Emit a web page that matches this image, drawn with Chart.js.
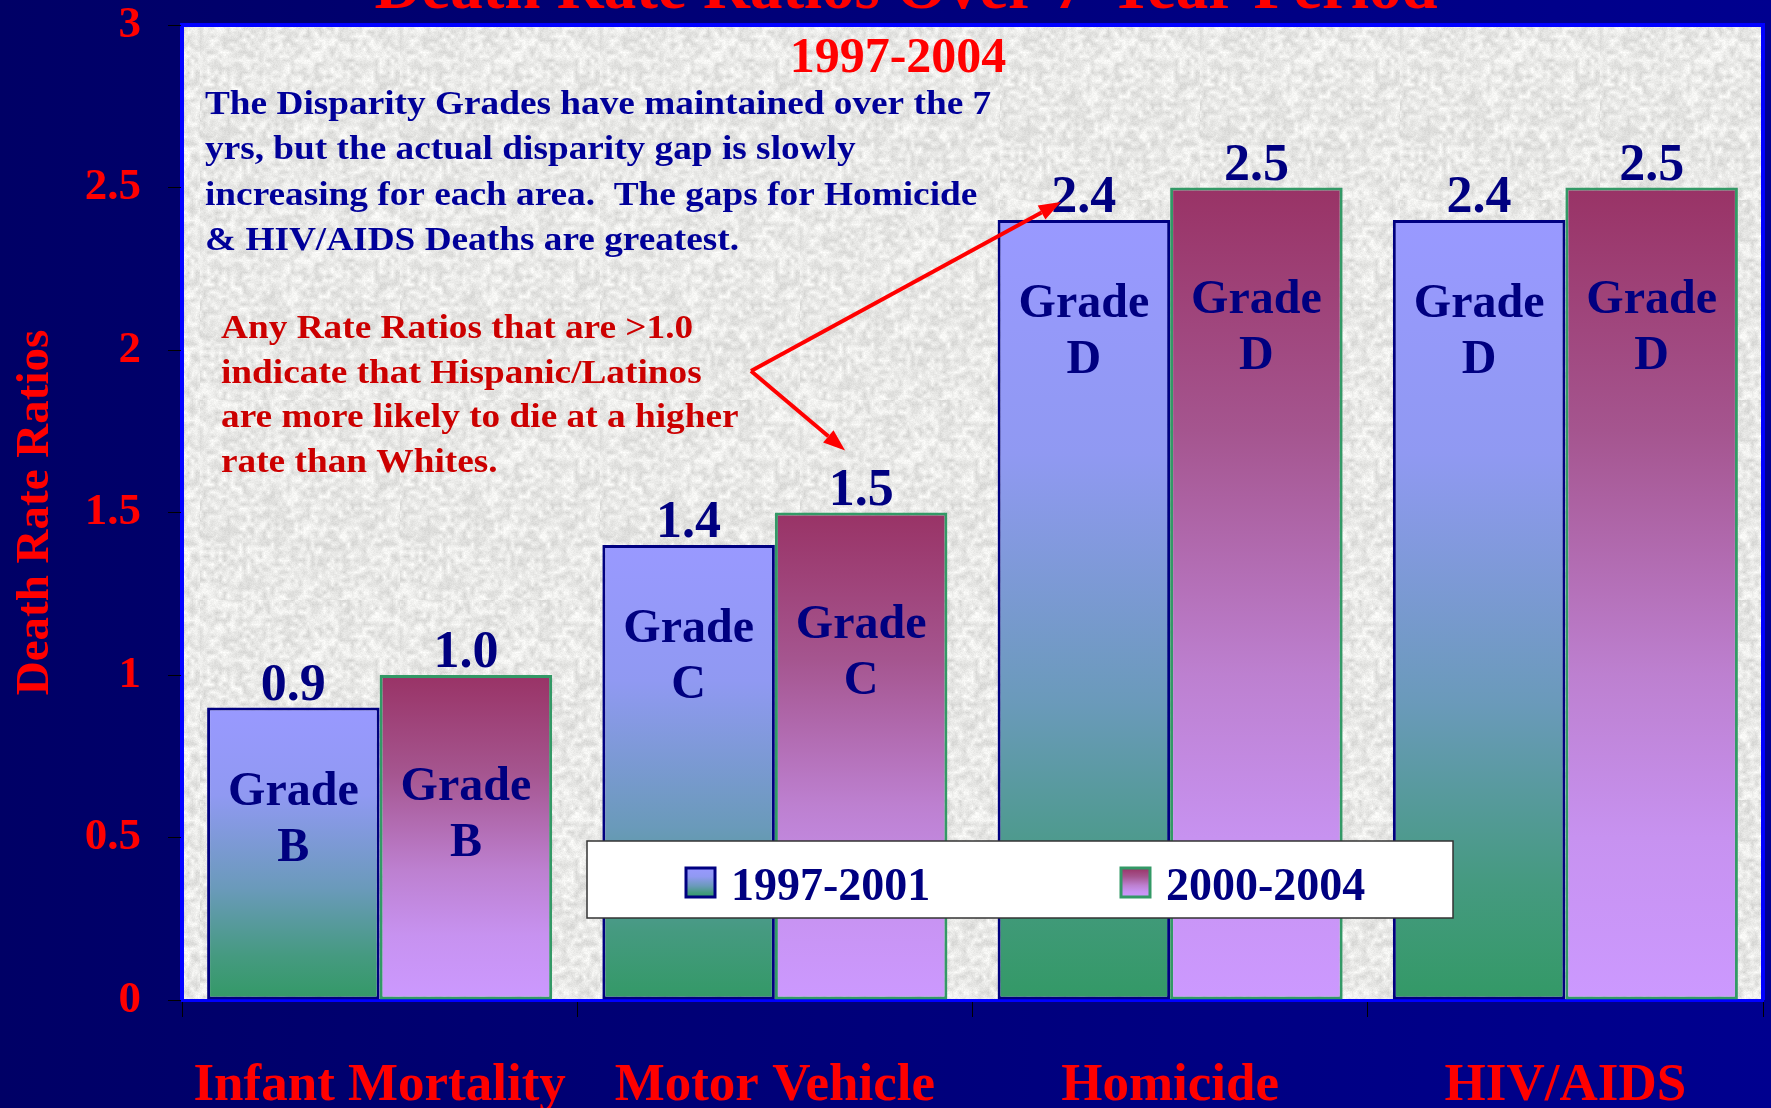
<!DOCTYPE html>
<html>
<head>
<meta charset="utf-8">
<script src="https://cdn.jsdelivr.net/npm/chart.js@4.4.0/dist/chart.umd.min.js"></script>
<style>
  html, body { margin: 0; padding: 0; background: #000080; }
  #wrap { width: 1771px; height: 1108px; }
</style>
</head>
<body>
<div id="wrap"><canvas id="rateChart" width="1771" height="1108"></canvas></div>
<script>
// data
const categories = ['Infant Mortality', 'Motor Vehicle', 'Homicide', 'HIV/AIDS'];
const seriesLabels = ['1997-2001', '2000-2004'];
const ratios9701 = [0.9, 1.4, 2.4, 2.4];
const ratios0004 = [1.0, 1.5, 2.5, 2.5];
const grades9701 = ['B', 'C', 'D', 'D'];
const grades0004 = ['B', 'C', 'D', 'D'];
const yTickValues = [0, 0.5, 1, 1.5, 2, 2.5, 3];

const mainTitle = 'Death Rate Ratios Over 7-Year Period';
const subTitle = '1997-2004';
const noteBlue = [
  'The Disparity Grades have maintained over the 7',
  'yrs, but the actual disparity gap is slowly',
  'increasing for each area.  The gaps for Homicide',
  '& HIV/AIDS Deaths are greatest.'
];
const noteRed = [
  'Any Rate Ratios that are >1.0',
  'indicate that Hispanic/Latinos',
  'are more likely to die at a higher',
  'rate than Whites.'
];

const SERIF = '"Liberation Serif", "Times New Roman", serif';
const NAVY = '#000080';

// gradient stops for each series (top -> bottom of the bar)
const stops9701 = [[0, '#9999ff'], [0.3, '#9099f2'], [0.62, '#6a9aba'], [0.85, '#459a80'], [1, '#339966']];
const stops0004 = [[0, '#993366'], [0.3, '#a5558f'], [0.6, '#bd80d0'], [0.8, '#c792f0'], [1, '#cc99ff']];

function barGradient(stops) {
  return (c) => {
    const chart = c.chart;
    const y = chart.scales.y;
    if (!y || c.type !== 'data') return stops[0][1];
    const top = y.getPixelForValue(c.raw);
    const bottom = y.getPixelForValue(0);
    if (!isFinite(top) || !isFinite(bottom) || top === bottom) return stops[0][1];
    const g = chart.ctx.createLinearGradient(0, top, 0, bottom);
    stops.forEach(s => g.addColorStop(s[0], s[1]));
    return g;
  };
}

// speckled grey paper texture for the plot area (deterministic)
function hash(x, y) {
  const s = Math.sin(x * 127.1 + y * 311.7) * 43758.5453;
  return s - Math.floor(s);
}
function makeTexture() {
  const size = 200;
  const c = document.createElement('canvas');
  c.width = c.height = size;
  const g = c.getContext('2d');
  const img = g.createImageData(size, size);
  const cell = 4;
  for (let y = 0; y < size; y++) {
    for (let x = 0; x < size; x++) {
      const gx = Math.floor(x / cell), gy = Math.floor(y / cell);
      const fx = (x % cell) / cell, fy = (y % cell) / cell;
      const a = hash(gx, gy), b = hash(gx + 1, gy), d = hash(gx, gy + 1), e = hash(gx + 1, gy + 1);
      const smooth = (a * (1 - fx) + b * fx) * (1 - fy) + (d * (1 - fx) + e * fx) * fy;
      const fine = hash(x + 1000, y + 1000);
      const v = Math.round(233 + (smooth - 0.5) * 38 + (fine - 0.5) * 12);
      const i = (y * size + x) * 4;
      img.data[i] = v; img.data[i + 1] = v; img.data[i + 2] = v - 2; img.data[i + 3] = 255;
    }
  }
  g.putImageData(img, 0, 0);
  return c;
}
const texture = makeTexture();

const backdrop = {
  id: 'backdrop',
  beforeDraw(chart) {
    const { ctx, width, height, chartArea: a } = chart;
    ctx.save();
    const bg = ctx.createLinearGradient(0, 0, width, 0);
    bg.addColorStop(0, '#000066');
    bg.addColorStop(1, '#00008f');
    ctx.fillStyle = bg;
    ctx.fillRect(0, 0, width, height);
    ctx.fillStyle = ctx.createPattern(texture, 'repeat');
    ctx.fillRect(a.left, a.top, a.right - a.left, a.bottom - a.top);
    ctx.strokeStyle = '#0000ff';
    ctx.lineWidth = 4;
    ctx.beginPath();
    ctx.moveTo(a.left, a.bottom);
    ctx.lineTo(a.left, a.top);
    ctx.lineTo(a.right, a.top);
    ctx.lineTo(a.right, a.bottom);
    ctx.stroke();
    ctx.restore();
  }
};

function drawArrow(ctx, x1, y1, x2, y2) {
  const ang = Math.atan2(y2 - y1, x2 - x1);
  const head = 22, half = 8;
  const bx = x2 - head * Math.cos(ang), by = y2 - head * Math.sin(ang);
  ctx.beginPath();
  ctx.moveTo(x1, y1);
  ctx.lineTo(bx, by);
  ctx.stroke();
  ctx.beginPath();
  ctx.moveTo(x2, y2);
  ctx.lineTo(bx + half * Math.sin(ang), by - half * Math.cos(ang));
  ctx.lineTo(bx - half * Math.sin(ang), by + half * Math.cos(ang));
  ctx.closePath();
  ctx.fill();
}

// slide text is set a little wider than Liberation Serif
function wideText(ctx, text, x, y, stretch) {
  ctx.save();
  ctx.translate(x, y);
  ctx.scale(stretch, 1);
  ctx.fillText(text, 0, 0);
  ctx.restore();
}

const annotations = {
  id: 'annotations',
  afterDatasetsDraw(chart) {
    const { ctx } = chart;
    const gradeSets = [grades9701, grades0004];
    const gradeOffset = [97, 125];
    ctx.save();

    // value labels and grade labels
    chart.data.datasets.forEach((ds, di) => {
      chart.getDatasetMeta(di).data.forEach((bar, i) => {
        ctx.fillStyle = NAVY;
        ctx.textAlign = 'center';
        ctx.textBaseline = 'alphabetic';
        ctx.font = 'bold 52px ' + SERIF;
        ctx.fillText(ds.data[i].toFixed(1), bar.x, bar.y - 8);
        ctx.font = 'bold 48px ' + SERIF;
        ctx.fillText('Grade', bar.x, bar.y + gradeOffset[di]);
        ctx.fillText(gradeSets[di][i], bar.x, bar.y + gradeOffset[di] + 56);
      });
    });

    // titles
    ctx.textAlign = 'center';
    ctx.fillStyle = '#ff0000';
    ctx.font = 'bold 65px ' + SERIF;
    ctx.fillText(mainTitle, 906, 8);
    ctx.font = 'bold 50px ' + SERIF;
    ctx.fillText(subTitle, 898, 72);

    // notes
    ctx.textAlign = 'left';
    ctx.font = 'bold 33px ' + SERIF;
    ctx.fillStyle = '#000099';
    noteBlue.forEach((t, i) => wideText(ctx, t, 205, 114 + i * 45.3, 1.13));
    ctx.fillStyle = '#cc0000';
    noteRed.forEach((t, i) => wideText(ctx, t, 221, 338 + i * 44.7, 1.13));

    // arrows from the red note to the homicide and motor vehicle labels
    const y = chart.scales.y;
    const homBar = chart.getDatasetMeta(0).data[2];
    const mvBar = chart.getDatasetMeta(1).data[1];
    ctx.strokeStyle = '#ff0000';
    ctx.fillStyle = '#ff0000';
    ctx.lineWidth = 4;
    const vx = 751, vy = 371;
    drawArrow(ctx, vx, vy, homBar.x - 23, y.getPixelForValue(ratios9701[2]) - 18);
    drawArrow(ctx, vx, vy, mvBar.x - 16, y.getPixelForValue(ratios0004[1]) - 62);

    // legend box
    const lx = 587, ly = 841, lw = 866, lh = 77;
    ctx.fillStyle = '#ffffff';
    ctx.fillRect(lx, ly, lw, lh);
    ctx.strokeStyle = '#333333';
    ctx.lineWidth = 1.5;
    ctx.strokeRect(lx, ly, lw, lh);
    const items = [
      { x: 686, stops: stops9701, border: NAVY },
      { x: 1121, stops: stops0004, border: '#339966' }
    ];
    items.forEach((it, k) => {
      const g = ctx.createLinearGradient(0, 868, 0, 897);
      it.stops.forEach(s => g.addColorStop(s[0], s[1]));
      ctx.fillStyle = g;
      ctx.fillRect(it.x, 868, 29, 29);
      ctx.strokeStyle = it.border;
      ctx.lineWidth = 3;
      ctx.strokeRect(it.x, 868, 29, 29);
      ctx.fillStyle = NAVY;
      ctx.font = 'bold 46px ' + SERIF;
      ctx.textAlign = 'left';
      ctx.fillText(seriesLabels[k], it.x + 45, 900);
    });
    ctx.restore();
  }
};

const chart = new Chart(document.getElementById('rateChart').getContext('2d'), {
  type: 'bar',
  data: {
    labels: categories,
    datasets: [{
      label: seriesLabels[0],
      data: ratios9701,
      backgroundColor: barGradient(stops9701),
      borderColor: NAVY,
      borderWidth: 3,
      borderSkipped: false
    }, {
      label: seriesLabels[1],
      data: ratios0004,
      backgroundColor: barGradient(stops0004),
      borderColor: '#339966',
      borderWidth: 3,
      borderSkipped: false
    }]
  },
  options: {
    responsive: false,
    animation: false,
    datasets: {
      bar: { categoryPercentage: 0.873, barPercentage: 1.0 }
    },
    layout: { padding: { top: 0, right: 8, left: 8, bottom: 0 } },
    plugins: {
      legend: { display: false },
      tooltip: { enabled: false }
    },
    scales: {
      x: {
        afterFit: s => { s.height = 108; },
        border: { color: '#0000ff', width: 3 },
        grid: { drawOnChartArea: false, color: '#000000', tickLength: 17, lineWidth: 1 },
        ticks: {
          color: '#ff0000',
          padding: 38,
          font: { family: SERIF, size: 53, weight: 'bold' }
        }
      },
      y: {
        min: 0,
        max: 3,
        afterFit: s => { s.width = 174; s.paddingTop = 25; s.paddingBottom = 0; },
        afterBuildTicks: s => { s.ticks = yTickValues.map(v => ({ value: v })); },
        border: { color: '#0000ff', width: 3 },
        grid: { drawOnChartArea: false, color: '#000000', tickLength: 14, lineWidth: 1 },
        ticks: {
          color: '#ff0000',
          padding: 27,
          font: { family: SERIF, size: 45, weight: 'bold', lineHeight: 1.1 },
          callback: v => String(v)
        },
        title: {
          display: true,
          text: 'Death Rate Ratios',
          color: '#ff0000',
          padding: 0,
          font: { family: SERIF, size: 47, weight: 'bold' }
        }
      }
    }
  },
  plugins: [backdrop, annotations]
});
</script>
</body>
</html>
